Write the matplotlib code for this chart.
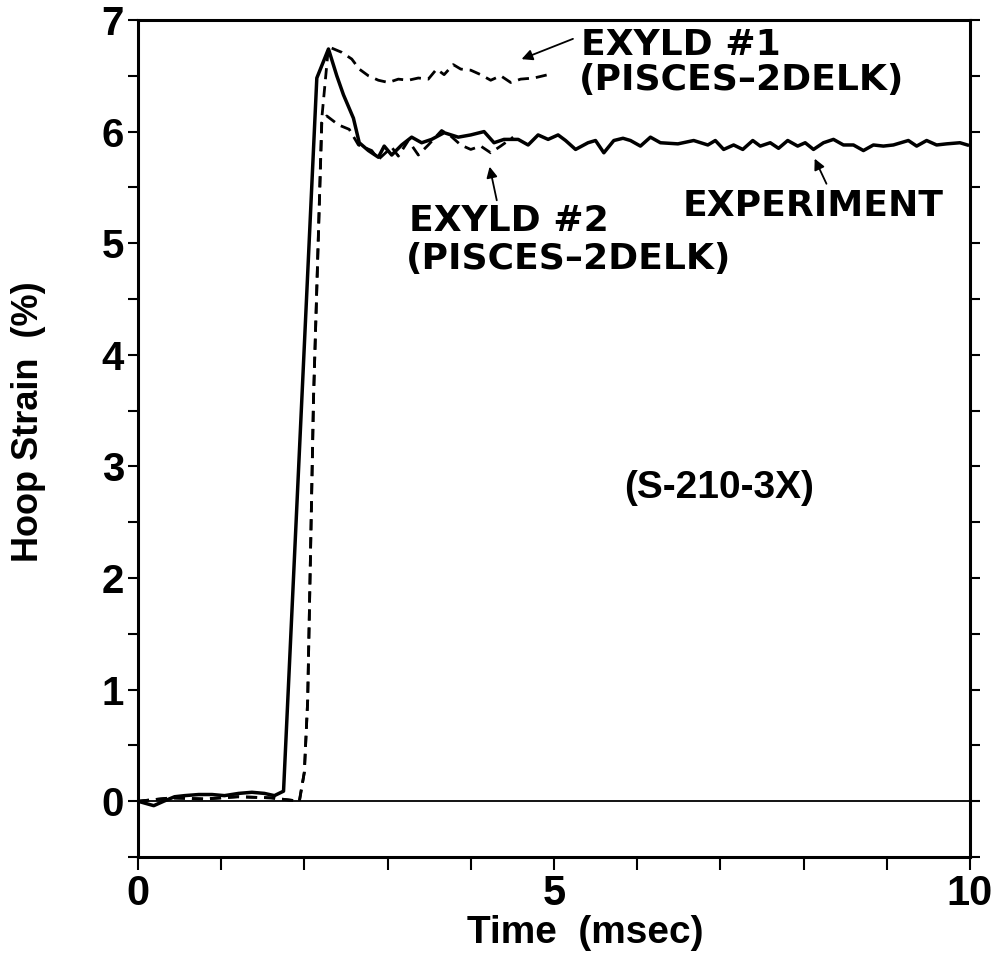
import numpy as np
import matplotlib
matplotlib.use('Agg')
import matplotlib.pyplot as plt

plt.rcParams['font.family'] = ['Liberation Sans', 'DejaVu Sans']

# measured hoop strain, test S-210-3X (solid)
exp_time = [0.0, 0.19, 0.31, 0.44, 0.56, 0.73, 0.89, 1.04, 1.21, 1.37, 1.52, 1.64, 1.75,
            2.15, 2.29, 2.39, 2.47, 2.59, 2.66, 2.77, 2.89, 2.96, 3.05,
            3.17, 3.29, 3.41, 3.53, 3.68, 3.85, 4.00, 4.16, 4.28, 4.40,
            4.57, 4.69, 4.81, 4.93, 5.05, 5.14, 5.26, 5.41, 5.50, 5.60,
            5.72, 5.83, 5.92, 6.04, 6.16, 6.28, 6.49, 6.68, 6.85, 6.94,
            7.04, 7.16, 7.27, 7.39, 7.48, 7.60, 7.70, 7.81, 7.93, 8.02,
            8.12, 8.24, 8.36, 8.48, 8.60, 8.72, 8.84, 8.96, 9.08, 9.26,
            9.36, 9.48, 9.60, 9.72, 9.88, 9.97]
exp_strain = [0.0, -0.04, 0.0, 0.04, 0.05, 0.06, 0.06, 0.05, 0.07, 0.08, 0.07, 0.05, 0.09,
              6.48, 6.74, 6.50, 6.33, 6.12, 5.90, 5.83, 5.77, 5.87, 5.79,
              5.88, 5.95, 5.90, 5.93, 5.99, 5.95, 5.97, 6.00, 5.90, 5.93,
              5.93, 5.88, 5.97, 5.93, 5.97, 5.92, 5.84, 5.90, 5.92, 5.81,
              5.92, 5.94, 5.92, 5.87, 5.95, 5.90, 5.89, 5.92, 5.88, 5.92,
              5.84, 5.88, 5.84, 5.92, 5.87, 5.90, 5.85, 5.92, 5.87, 5.90,
              5.84, 5.90, 5.93, 5.88, 5.88, 5.83, 5.88, 5.87, 5.88, 5.92,
              5.87, 5.92, 5.88, 5.89, 5.90, 5.88]

# EXYLD #1 (PISCES-2DELK), upper dashed
exyld1_time = [0.0, 0.4, 0.8, 1.2, 1.6, 1.94, 2.00, 2.04, 2.11, 2.21,
               2.29, 2.45, 2.57, 2.66, 2.77, 2.89, 3.01, 3.13, 3.25, 3.37,
               3.49, 3.59, 3.68, 3.79, 3.88, 4.00, 4.12, 4.24, 4.36, 4.48,
               4.60, 4.76, 4.93]
exyld1_strain = [0.0, 0.03, 0.02, 0.04, 0.03, 0.0, 0.26, 0.9, 3.6, 6.12,
                 6.76, 6.71, 6.65, 6.56, 6.50, 6.46, 6.44, 6.47, 6.46, 6.48,
                 6.47, 6.56, 6.51, 6.60, 6.56, 6.55, 6.51, 6.46, 6.50, 6.44,
                 6.47, 6.48, 6.51]

# EXYLD #2 (PISCES-2DELK), lower dashed
exyld2_time = [0.0, 0.4, 0.8, 1.2, 1.6, 1.94, 2.00, 2.04, 2.11, 2.21,
               2.27, 2.41, 2.54, 2.65, 2.81, 2.89, 3.05, 3.13, 3.25, 3.37,
               3.49, 3.65, 3.76, 3.88, 4.00, 4.12, 4.24, 4.36, 4.51]
exyld2_strain = [0.0, 0.03, 0.02, 0.04, 0.03, 0.0, 0.26, 0.9, 3.6, 6.08,
                 6.14, 6.06, 6.02, 5.88, 5.83, 5.75, 5.86, 5.78, 5.92, 5.79,
                 5.88, 6.01, 5.96, 5.88, 5.84, 5.87, 5.81, 5.87, 5.95]

x_major = [0, 5, 10]
x_minor = [1, 2, 3, 4, 6, 7, 8, 9]
y_major = [0, 1, 2, 3, 4, 5, 6, 7]
y_minor = [-0.5, 0.5, 1.5, 2.5, 3.5, 4.5, 5.5, 6.5]

fig = plt.figure(figsize=(9.96, 9.65), dpi=100)
ax = fig.add_axes([0.1385, 0.1119, 0.8353, 0.8674])

ax.axhline(0, color='black', lw=1.3)
ax.plot(exp_time, exp_strain, color='black', lw=2.5, solid_joinstyle='round')
ax.plot(exyld1_time, exyld1_strain, color='black', lw=2.0, linestyle=(0, (4, 2.5)))
ax.plot(exyld2_time, exyld2_strain, color='black', lw=2.0, linestyle=(0, (4, 2.5)))

ax.set_xlim(0, 10)
ax.set_ylim(-0.5, 7)
ax.set_xticks(x_major)
ax.set_xticks(x_minor, minor=True)
ax.set_yticks(y_major)
ax.set_yticks(y_minor, minor=True)
ax.tick_params(axis='x', which='both', direction='out', length=9, width=1.5,
               labelsize=30, pad=3)
ax.tick_params(axis='y', which='both', direction='out', length=7, width=1.5,
               labelsize=29, pad=3, right=True)
for lab in ax.get_xticklabels() + ax.get_yticklabels():
    lab.set_fontweight('bold')
for sp in ax.spines.values():
    sp.set_linewidth(2.2)

# curve labels
txt = dict(fontsize=26, fontweight='bold', family=['DejaVu Sans'], va='center', ha='left')
ax.text(5.32, 6.78, 'EXYLD #1', **txt)
ax.text(5.30, 6.46, '(PISCES\u20132DELK)', **txt)
ax.text(3.26, 5.20, 'EXYLD #2', **txt)
ax.text(3.22, 4.86, '(PISCES\u20132DELK)', **txt)
ax.text(6.55, 5.33, 'EXPERIMENT', **txt)
ax.text(5.84, 2.81, '(S-210-3X)', fontsize=28, fontweight='bold', va='center', ha='left')

arrow = dict(arrowstyle='-|>', color='black', lw=1.3, mutation_scale=16)
ax.annotate('', xy=(4.58, 6.64), xytext=(5.26, 6.84), arrowprops=arrow)
ax.annotate('', xy=(4.22, 5.71), xytext=(4.32, 5.36), arrowprops=arrow)
ax.annotate('', xy=(8.12, 5.78), xytext=(8.29, 5.51), arrowprops=arrow)

fig.text(585 / 996, 1 - 933 / 965, 'Time  (msec)', fontsize=28, fontweight='bold',
         ha='center', va='center')
fig.text(28 / 996, 1 - 422 / 965, 'Hoop Strain  (%)', fontsize=26, fontweight='bold',
         rotation=90, ha='center', va='center')

fig.savefig('out.png', dpi=100, facecolor='white')
